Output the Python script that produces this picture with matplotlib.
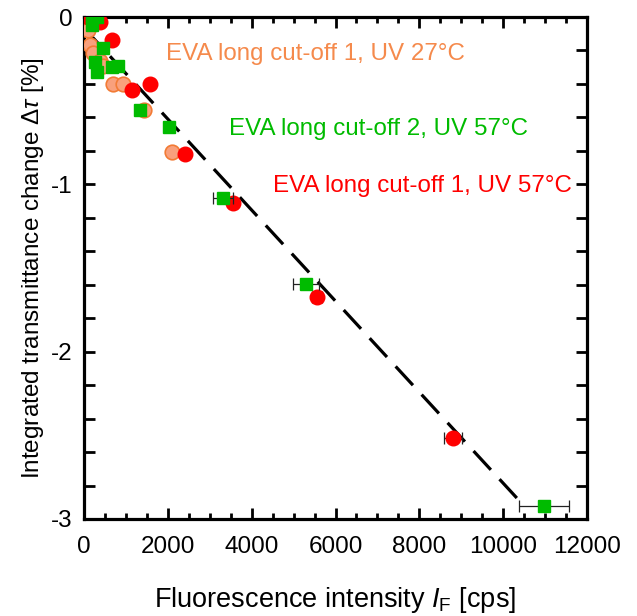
import matplotlib
matplotlib.use("Agg")
import matplotlib.pyplot as plt
from matplotlib.ticker import MultipleLocator
import numpy as np

plt.rcParams["font.family"] = ["Liberation Sans", "DejaVu Sans"]
plt.rcParams["mathtext.fontset"] = "custom"
plt.rcParams["mathtext.rm"] = "Liberation Sans"
plt.rcParams["mathtext.it"] = "Liberation Sans:italic"

# EVA long cut-off 1, UV 27 C (orange)
x_orange = [95, 50, 100, 143, 215, 382, 453, 692, 930, 1430, 2100]
y_orange = [-0.01, -0.02, -0.08, -0.17, -0.215, -0.26, -0.29, -0.40, -0.40, -0.556, -0.807]
xerr_orange = [60, 60, 60, 60, 60, 60, 60, 70, 70, 70, 80]

# EVA long cut-off 1, UV 57 C (red)
x_red = [95, 310, 382, 668, 1145, 1574, 2410, 3554, 5558, 8802]
y_red = [0.0, -0.006, -0.03, -0.14, -0.436, -0.40, -0.82, -1.112, -1.674, -2.516]
xerr_red = [60, 60, 60, 70, 70, 80, 80, 100, 110, 215]

# EVA long cut-off 2, UV 57 C (green)
x_green = [191, 310, 191, 262, 300, 453, 668, 811, 1336, 2028, 3316, 5296, 10973]
y_green = [-0.006, 0.0, -0.05, -0.27, -0.33, -0.185, -0.30, -0.29, -0.556, -0.66, -1.082, -1.596, -2.923]
xerr_green = [60, 60, 60, 60, 60, 60, 70, 70, 70, 80, 230, 320, 600]

# linear fit
fit_slope = -2.72e-4
fit_intercept = -0.066
fit_x = [0, 10500]

ORANGE_FILL = "#f9a07c"
ORANGE_EDGE = "#f27b35"
ORANGE_TEXT = "#f58a4c"
RED = "#ff0000"
GREEN = "#00bb00"

fig = plt.figure(figsize=(6.37, 6.16), dpi=100)
ax = fig.add_axes([0.1319, 0.1575, 0.7896, 0.8149])

fx = np.array(fit_x)
ax.plot(fx, fit_intercept + fit_slope * fx, color="black", lw=2.3,
        dashes=(8, 4), zorder=2)

err_kw = dict(ecolor="#222222", elinewidth=0.9, capsize=4.5, capthick=0.9, ls="none")
ax.errorbar(x_orange, y_orange, xerr=xerr_orange, marker="o", ms=10.5,
            mfc=ORANGE_FILL, mec=ORANGE_EDGE, mew=1.2, zorder=3, **err_kw)
ax.errorbar(x_red, y_red, xerr=xerr_red, marker="o", ms=10.5,
            mfc=RED, mec=RED, zorder=4, **err_kw)
ax.errorbar(x_green, y_green, xerr=xerr_green, marker="s", ms=8.5,
            mfc=GREEN, mec=GREEN, zorder=5, **err_kw)

ax.text(1950, -0.22, "EVA long cut-off 1, UV 27°C", color=ORANGE_TEXT,
        fontsize=17.4, va="center")
ax.text(3470, -0.67, "EVA long cut-off 2, UV 57°C", color=GREEN,
        fontsize=17.4, va="center")
ax.text(4500, -1.01, "EVA long cut-off 1, UV 57°C", color=RED,
        fontsize=17.4, va="center")

ax.set_xlim(0, 12000)
ax.set_ylim(-3, 0)
ax.set_xticks([0, 2000, 4000, 6000, 8000, 10000, 12000])
ax.xaxis.set_minor_locator(MultipleLocator(500))
ax.set_yticks([-3, -2, -1, 0])
ax.set_yticklabels(["-3", "-2", "-1", "0"])
ax.yaxis.set_minor_locator(MultipleLocator(0.2))

ax.tick_params(which="both", direction="in", top=True, right=True, width=2)
ax.tick_params(which="major", length=8, labelsize=17.5)
ax.tick_params(axis="x", which="major", pad=12)
ax.tick_params(axis="y", which="major", pad=8)
ax.tick_params(axis="x", which="minor", length=4)
ax.tick_params(axis="y", which="minor", length=8)
for s in ax.spines.values():
    s.set_linewidth(2.3)

ax.set_xlabel(r"Fluorescence intensity $I_\mathrm{F}$ [cps]", fontsize=19.5, labelpad=20)
ax.set_ylabel(r"Integrated transmittance change $\Delta\tau$ [%]", fontsize=17.5, labelpad=4)

fig.savefig("out.png", dpi=100)
